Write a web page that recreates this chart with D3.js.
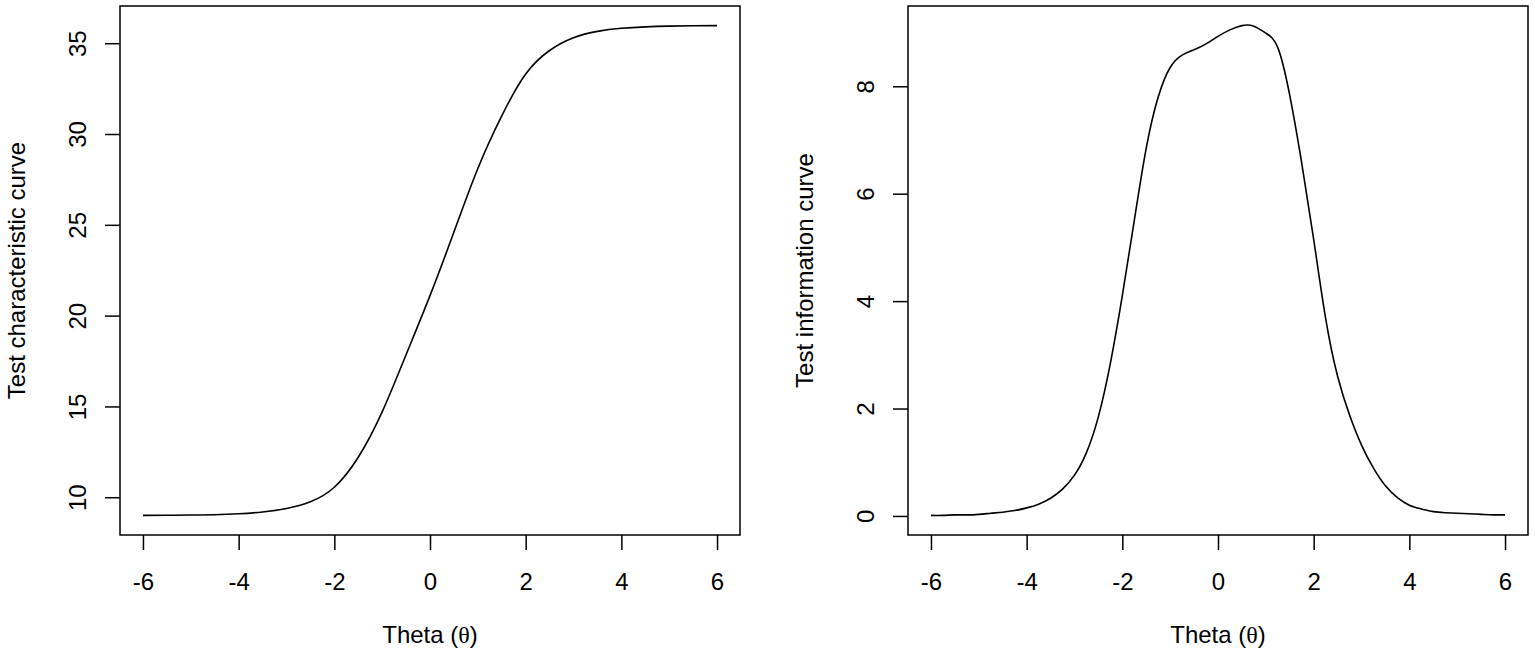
<!DOCTYPE html>
<html>
<head>
<meta charset="utf-8">
<script src="https://cdn.jsdelivr.net/npm/d3@7"></script>
<style>
  body { margin: 0; background: #fff; }
  svg text { font-family: "Liberation Sans", Arial, sans-serif; font-size: 24px; fill: #000; }
</style>
</head>
<body>
<div id="wrapper"></div>
<script>
// theta grids
const thetaTcc = [-6, -5.5, -5, -4.5, -4, -3.5, -3, -2.5, -2, -1.5, -1, -0.5, 0,
  0.5, 1, 1.5, 2, 2.5, 3, 3.5, 4, 4.5, 5, 5.5, 6]
const tccValues = [9.0, 9.01, 9.02, 9.04, 9.09, 9.19, 9.38, 9.75, 10.55, 12.2, 14.7, 17.85, 21.1,
  24.6, 28.1, 31.0, 33.3, 34.6, 35.3, 35.65, 35.82, 35.9, 35.94, 35.96, 35.97]

const thetaTic = [-6, -5.75, -5.5, -5.25, -5, -4.75, -4.5, -4.25, -4, -3.75, -3.5, -3.25,
  -3, -2.75, -2.5, -2.25, -2, -1.75, -1.5, -1.25, -1, -0.75, -0.5, -0.25, 0,
  0.25, 0.5, 0.75, 1, 1.25, 1.5, 1.75, 2, 2.25, 2.5, 2.75, 3, 3.25, 3.5, 3.75,
  4, 4.25, 4.5, 4.75, 5, 5.25, 5.5, 5.75, 6]
const ticValues = [0.01, 0.01, 0.02, 0.02, 0.03, 0.05, 0.07, 0.1, 0.15, 0.22, 0.33, 0.5,
  0.76, 1.18, 1.85, 2.84, 4.1, 5.5, 6.85, 7.8, 8.35, 8.58, 8.68, 8.79, 8.93,
  9.05, 9.13, 9.12, 8.99, 8.72, 7.83, 6.57, 5.15, 3.68, 2.6, 1.88, 1.32, 0.89, 0.56, 0.34,
  0.2, 0.13, 0.08, 0.06, 0.05, 0.04, 0.03, 0.02, 0.02]

const xTicks = [-6, -4, -2, 0, 2, 4, 6]
const tccTicks = [10, 15, 20, 25, 30, 35]
const ticTicks = [0, 2, 4, 6, 8]

const xLabel = "Theta ("
const tccLabel = "Test characteristic curve"
const ticLabel = "Test information curve"

const width = 1535
const height = 656

const svg = d3.select("#wrapper")
  .append("svg")
    .attr("width", width)
    .attr("height", height)

// R style: data range padded by 4%
function padded(extent) {
  const r = extent[1] - extent[0]
  return [extent[0] - 0.04 * r, extent[1] + 0.04 * r]
}

function drawPanel(left, xs, ys, yTicks, yLabel) {
  const box = { left: left, right: left + 620, top: 6, bottom: 535 }

  const xScale = d3.scaleLinear()
    .domain(padded(d3.extent(xs)))
    .range([box.left, box.right])

  const yScale = d3.scaleLinear()
    .domain(padded(d3.extent(ys)))
    .range([box.bottom, box.top])

  const points = xs.map((x, i) => [x, ys[i]])

  const line = d3.line()
    .x(d => xScale(d[0]))
    .y(d => yScale(d[1]))
    .curve(d3.curveNatural)

  svg.append("path")
    .attr("d", line(points))
    .attr("fill", "none")
    .attr("stroke", "#000")
    .attr("stroke-width", 1.6)

  svg.append("rect")
    .attr("x", box.left)
    .attr("y", box.top)
    .attr("width", box.right - box.left)
    .attr("height", box.bottom - box.top)
    .attr("fill", "none")
    .attr("stroke", "#000")
    .attr("stroke-width", 1.5)

  // x axis
  const xAxis = svg.append("g")
    .attr("transform", `translate(0, ${box.bottom})`)
    .call(d3.axisBottom(xScale).tickValues(xTicks).tickSize(15).tickPadding(23))
  xAxis.select(".domain").remove()
  xAxis.selectAll("line").attr("stroke", "#000").attr("stroke-width", 1.5)
  xAxis.selectAll("text")
    .attr("fill", "#000")
    .style("font-size", "24px")
    .style("font-family", "'Liberation Sans', Arial, sans-serif")
    .text(d => d < 0 ? "-" + Math.abs(d) : d)

  // y axis
  const yAxis = svg.append("g")
    .attr("transform", `translate(${box.left}, 0)`)
    .call(d3.axisLeft(yScale).tickValues(yTicks).tickSize(15))
  yAxis.select(".domain").remove()
  yAxis.selectAll("line").attr("stroke", "#000").attr("stroke-width", 1.5)
  yAxis.selectAll("text")
    .attr("fill", "#000")
    .attr("x", null)
    .attr("dy", "0.36em")
    .attr("text-anchor", "middle")
    .attr("transform", "translate(-43, 0) rotate(-90)")
    .style("font-size", "24px")
    .style("font-family", "'Liberation Sans', Arial, sans-serif")

  // titles
  const xt = svg.append("text")
    .attr("x", (box.left + box.right) / 2)
    .attr("y", 643)
    .attr("text-anchor", "middle")
  xt.append("tspan").text(xLabel)
  xt.append("tspan").style("font-family", "'Liberation Serif', serif").text("\u03B8")
  xt.append("tspan").text(")")

  svg.append("text")
    .attr("transform", `translate(${box.left - 95}, ${(box.top + box.bottom) / 2}) rotate(-90)`)
    .attr("text-anchor", "middle")
    .text(yLabel)
}

drawPanel(120, thetaTcc, tccValues, tccTicks, tccLabel)
drawPanel(908, thetaTic, ticValues, ticTicks, ticLabel)
</script>
</body>
</html>
